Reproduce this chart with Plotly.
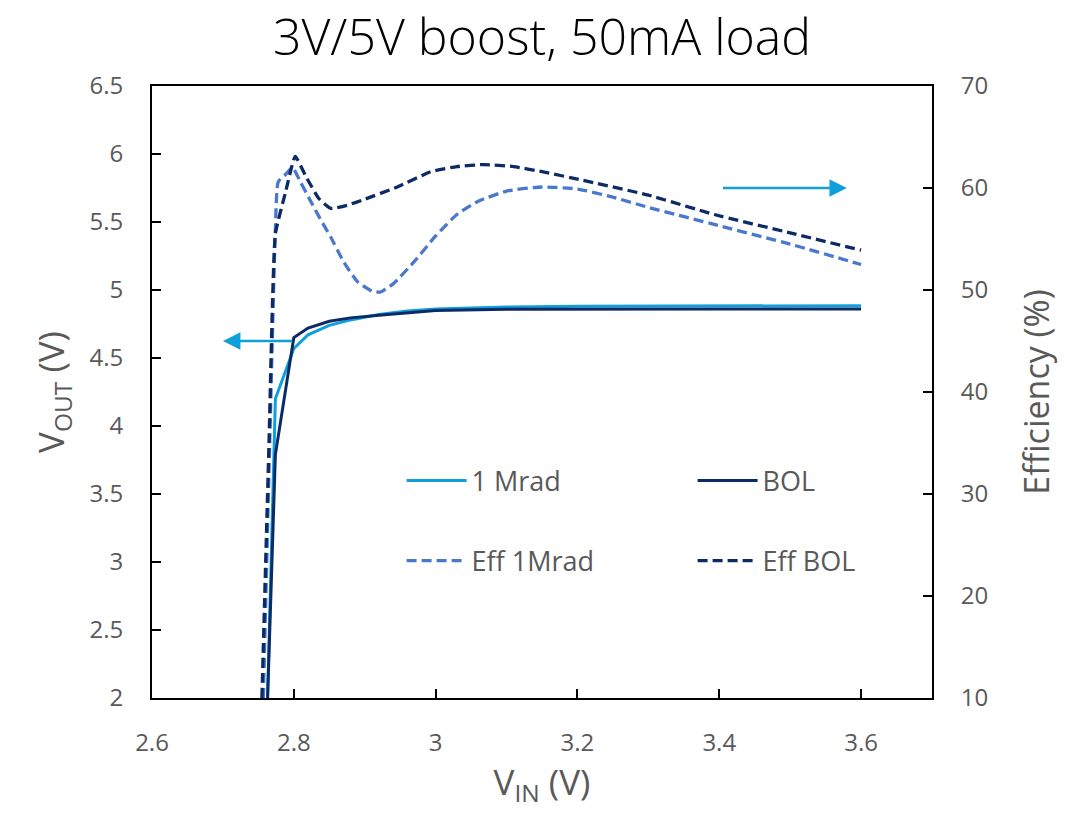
import plotly.graph_objects as go

# ---- data ----
vin_1mrad = [2.763, 2.774, 2.8, 2.82, 2.85, 2.88, 2.92, 2.96, 3.0, 3.1, 3.2, 3.3, 3.4, 3.5, 3.6]
vout_1mrad = [2.0, 4.20, 4.57, 4.67, 4.74, 4.78, 4.82, 4.845, 4.86, 4.875, 4.88, 4.882, 4.884, 4.885, 4.885]

vin_bol = [2.763, 2.774, 2.8, 2.82, 2.85, 2.88, 2.92, 2.96, 3.0, 3.1, 3.2, 3.3, 3.4, 3.5, 3.6]
vout_bol = [2.0, 3.79, 4.65, 4.72, 4.77, 4.795, 4.815, 4.835, 4.85, 4.858, 4.86, 4.86, 4.86, 4.86, 4.86]

vin_eff_1mrad = [2.757, 2.766, 2.774, 2.778, 2.788, 2.798, 2.81, 2.823, 2.837, 2.852, 2.87, 2.89,
                 2.91, 2.922, 2.94, 2.97, 3.0, 3.03, 3.06, 3.1, 3.15, 3.2, 3.25, 3.3, 3.4, 3.5, 3.6]
eff_1mrad = [10, 35, 56, 60.6, 61.3, 62.0, 60.5, 58.8, 57.0, 55.2, 52.8, 50.8,
             49.9, 49.8, 50.6, 52.8, 55.3, 57.4, 58.7, 59.7, 60.1, 59.9, 59.1, 58.1, 56.3, 54.5, 52.5]

vin_eff_bol = [2.755, 2.765, 2.774, 2.788, 2.802, 2.818, 2.835, 2.852, 2.875, 2.9, 2.946, 2.993,
               3.03, 3.068, 3.11, 3.15, 3.205, 3.3, 3.393, 3.5, 3.6]
eff_bol = [10, 35, 55.5, 59.5, 63.1, 61.0, 59.0, 58.0, 58.3, 58.9, 60.1, 61.6,
           62.1, 62.3, 62.1, 61.6, 60.8, 59.3, 57.4, 55.6, 53.9]

x_ticks = [2.6, 2.8, 3.0, 3.2, 3.4, 3.6]
x_ticktext = ["2.6", "2.8", "3", "3.2", "3.4", "3.6"]
y_ticks = [2, 2.5, 3, 3.5, 4, 4.5, 5, 5.5, 6, 6.5]
y_ticktext = ["2", "2.5", "3", "3.5", "4", "4.5", "5", "5.5", "6", "6.5"]
y2_ticks = [10, 20, 30, 40, 50, 60, 70]

LIGHT = "#0fa0dc"
NAVY = "#0b2a66"
MID = "#4a78cf"
GREY = "#595959"
FONT = "Open Sans"

fig = go.Figure()
fig.add_trace(go.Scatter(x=vin_1mrad, y=vout_1mrad, mode="lines", name="1 Mrad",
                         line=dict(color=LIGHT, width=3), legend="legend"))
fig.add_trace(go.Scatter(x=vin_bol, y=vout_bol, mode="lines", name="BOL",
                         line=dict(color=NAVY, width=3), legend="legend"))
fig.add_trace(go.Scatter(x=vin_eff_1mrad, y=eff_1mrad, mode="lines", name="Eff 1Mrad",
                         line=dict(color=MID, width=3.3, dash="10px,5px", shape="spline", smoothing=0.5),
                         yaxis="y2", legend="legend2"))
fig.add_trace(go.Scatter(x=vin_eff_bol, y=eff_bol, mode="lines", name="Eff BOL",
                         line=dict(color=NAVY, width=3.3, dash="10px,5px", shape="spline", smoothing=0.4),
                         yaxis="y2", legend="legend2"))

axis_common = dict(showgrid=False, zeroline=False, showline=True, linecolor="black", linewidth=2,
                   ticks="inside", ticklen=9, tickwidth=2, tickcolor="black",
                   tickfont=dict(family=FONT, size=24, color=GREY))

legend_common = dict(orientation="h", x=0.32, xanchor="left", yanchor="middle",
                     entrywidth=216, itemwidth=60, bgcolor="rgba(0,0,0,0)",
                     font=dict(family=FONT, size=27, color=GREY))

fig.update_layout(
    width=1081, height=822,
    margin=dict(l=152, r=149, t=86, b=124),
    paper_bgcolor="white", plot_bgcolor="white",
    font=dict(family=FONT, color=GREY),
    title=dict(text="3V/5V boost, 50mA load", x=0.5, xanchor="center", xref="paper",
               y=1 - 37 / 822, yanchor="middle", yref="container",
               font=dict(family=FONT, size=50, color="black", weight=300)),
    xaxis=dict(range=[2.6, 3.7], tickvals=x_ticks, ticktext=x_ticktext, mirror=True,
               ticklabelstandoff=22,
               title=dict(text="V<sub>IN</sub> (V)", font=dict(family=FONT, size=35, color=GREY), standoff=12),
               **axis_common),
    yaxis=dict(range=[2, 6.5], tickvals=y_ticks, ticktext=y_ticktext, mirror=True,
               ticklabelstandoff=22,
               title=dict(text="V<sub>OUT</sub> (V)", font=dict(family=FONT, size=35, color=GREY), standoff=14),
               **axis_common),
    yaxis2=dict(range=[10, 70], tickvals=y2_ticks, overlaying="y", side="right",
                ticklabelstandoff=22,
                title=dict(text="Efficiency (%)", font=dict(family=FONT, size=34, color=GREY), standoff=38),
                **axis_common),
    legend=dict(y=(698 - 481) / 612, **legend_common),
    legend2=dict(y=(698 - 561) / 612, **legend_common),
    showlegend=True,
)

# direction arrows
fig.add_annotation(x=2.70, y=4.625, ax=2.80, ay=4.625, xref="x", yref="y", axref="x", ayref="y",
                   showarrow=True, arrowhead=2, arrowsize=1.4, arrowwidth=2.5, arrowcolor=LIGHT, text="")
fig.add_annotation(x=3.58, y=60, ax=3.403, ay=60, xref="x", yref="y2", axref="x", ayref="y2",
                   showarrow=True, arrowhead=2, arrowsize=1.4, arrowwidth=2.5, arrowcolor=LIGHT, text="")

fig.write_html("out.html")
